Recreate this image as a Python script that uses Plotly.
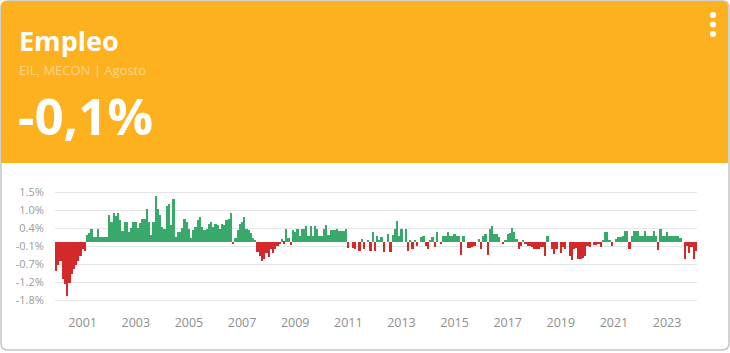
import plotly.graph_objects as go

# ---------------- data ----------------
start_year, start_month = 2000, 7          # first bar = July 2000 (monthly series)
values = [
    # Jul 2000 - Aug 2001
    -0.9, -0.72, -0.6, -1.15, -1.3, -1.68, -1.28, -1.0, -0.85, -0.72, -0.6, -0.43, -0.22, -0.3,
    # Sep 2001 - Jun 2007
    0.19, 0.25, 0.4, 0.15, 0.15, 0.4, 0.15, 0.15, 0.15, 0.15, 0.8, 0.6, 0.88, 0.77, 0.88, 0.65,
    0.33, 0.6, 0.6, 0.28, 0.43, 0.6, 0.6, 0.43, 0.58, 0.7, 0.7, 1.0, 0.6, 0.2, 0.6, 1.39,
    1.0, 0.8, 0.45, 0.4, 1.1, 1.15, 0.5, 1.3, 0.15, 0.3, 0.3, 0.43, 0.7, 0.6, 0.38, 0.1,
    0.35, 0.45, 0.65, 0.75, 0.45, 0.35, 0.4, 0.55, 0.6, 0.45, 0.55, 0.5, 0.4, 0.55, 0.5, 0.65,
    0.7, 0.88, -0.08, 0.1, 0.35, 0.55,
    # Jul 2007 - Jan 2011
    0.6, 0.75, 0.4, 0.35, 0.25, 0.1, 0.05, -0.32, -0.45, -0.6, -0.53, -0.34, -0.48, -0.22,
    -0.35, -0.22, -0.14, -0.07, 0.08, -0.06, 0.38, 0.1, -0.1, 0.36, 0.3, 0.4, 0.18, 0.4,
    0.38, 0.47, 0.18, 0.47, 0.18, 0.47, 0.4, 0.16, 0.16, 0.4, 0.52, 0.2, 0.35, 0.35, 0.35,
    # Feb 2011 - Aug 2014
    0.38, 0.33, 0.33, 0.33, 0.38, -0.2, 0.0, -0.2, -0.22, 0.0, -0.3, 0.08, -0.22, 0.0,
    0.06, -0.3, 0.28, -0.3, 0.18, 0.06, 0.13, -0.32, 0.0, 0.23, -0.32, 0.2, 0.38, 0.64,
    0.18, 0.38, 0.0, 0.38, -0.3, 0.03, -0.22, 0.06, -0.14, 0.0, 0.13, 0.18, -0.12, -0.22, 0.06,
    # Sep 2014 - Mar 2018
    0.13, -0.17, 0.28, 0.0, -0.07, 0.18, 0.18, 0.28, 0.16, 0.16, 0.23, 0.16, 0.16, -0.41,
    0.16, 0.0, -0.2, -0.2, -0.17, -0.14, 0.0, 0.08, -0.22, 0.16, 0.23, -0.41, 0.38, 0.48,
    0.23, 0.23, 0.13, 0.0, -0.07, 0.06, 0.23, 0.26, 0.43, 0.28, 0.08, -0.22, -0.12, 0.06, -0.07,
    # Apr 2018 - Oct 2021
    -0.12, -0.14, -0.17, -0.22, -0.22, -0.22, -0.17, -0.17, -0.43, 0.16, 0.0, -0.22, -0.37,
    -0.22, 0.0, -0.35, -0.17, -0.22, 0.0, -0.43, -0.55, -0.22, -0.2, -0.53, -0.53, -0.51,
    -0.43, -0.14, -0.17, 0.0, -0.1, -0.1, -0.07, -0.17, 0.06, 0.28, 0.28, 0.06, -0.12, 0.0,
    0.08, 0.13, 0.13,
    # Nov 2021 - Aug 2024
    0.16, 0.33, 0.33, -0.22, 0.16, 0.33, 0.33, 0.33, 0.16, 0.16, 0.33, 0.16, 0.16, 0.16,
    0.33, 0.16, -0.25, 0.38, 0.16, 0.16, 0.3, 0.16, 0.16, 0.16, 0.16, 0.16, 0.12,
    0.0, -0.53, -0.12, -0.35, -0.17, -0.53, -0.3,
]
y_tickvals = [-1.8, -1.25, -0.7, -0.15, 0.4, 0.95, 1.5]
y_ticktext = ["-1.8%", "-1.2%", "-0.7%", "-0.1%", "0.4%", "1.0%", "1.5%"]
x_tick_years = list(range(2001, 2024, 2))
title_text = "Empleo"
source_text = "EIL, MECON | Agosto"
headline_text = "-0,1%"

# ---------------- styling ----------------
W, H = 730, 353
L, R, T, B = 55, 33, 191, 51
PW, PH = W - L - R, H - T - B
GREEN, RED = "#39a96b", "#d3292b"
ORANGE = "#FDB11F"
FONT = "Open Sans"


def px(p):
    return (p - L) / PW


def py(p):
    return (H - B - p) / PH


def rounded_path(x0, y0, x1, y1, r, bottom_round=True):
    # pixel coordinates -> paper coordinates path
    pts = []
    pts.append(f"M {px(x0 + r)},{py(y0)}")
    pts.append(f"L {px(x1 - r)},{py(y0)}")
    pts.append(f"Q {px(x1)},{py(y0)} {px(x1)},{py(y0 + r)}")
    if bottom_round:
        pts.append(f"L {px(x1)},{py(y1 - r)}")
        pts.append(f"Q {px(x1)},{py(y1)} {px(x1 - r)},{py(y1)}")
        pts.append(f"L {px(x0 + r)},{py(y1)}")
        pts.append(f"Q {px(x0)},{py(y1)} {px(x0)},{py(y1 - r)}")
    else:
        pts.append(f"L {px(x1)},{py(y1)}")
        pts.append(f"L {px(x0)},{py(y1)}")
    pts.append(f"L {px(x0)},{py(y0 + r)}")
    pts.append(f"Q {px(x0)},{py(y0)} {px(x0 + r)},{py(y0)}")
    pts.append("Z")
    return " ".join(pts)


n = len(values)
xs = list(range(n))
colors = [GREEN if v >= 0 else RED for v in values]
x_tickvals = [(yr - start_year) * 12 + (7 - start_month) for yr in x_tick_years]

fig = go.Figure()
fig.add_trace(go.Bar(x=xs, y=values, marker=dict(color=colors, line=dict(width=0)),
                     width=1.0, hoverinfo="skip"))

shapes = [
    # card shadow / outline
    dict(type="path", xref="paper", yref="paper", path=rounded_path(1, 1, 729, 350, 7),
         fillcolor="rgba(0,0,0,0)", line=dict(color="#c4c4c4", width=1.5), layer="below"),
    # orange header
    dict(type="path", xref="paper", yref="paper", path=rounded_path(1, 1, 728, 163, 6, bottom_round=False),
         fillcolor=ORANGE, line=dict(width=0), layer="below"),
]
for cy in (15, 24.5, 34):
    shapes.append(dict(type="circle", xref="paper", yref="paper",
                       x0=px(710), x1=px(716), y0=py(cy + 3), y1=py(cy - 3),
                       fillcolor="white", line=dict(width=0)))

annotations = [
    dict(text=f"<b>{title_text}</b>", x=px(17), y=py(40), xref="paper", yref="paper",
         xanchor="left", yanchor="middle", showarrow=False,
         font=dict(family=FONT, size=27, color="white")),
    dict(text=source_text, x=px(17), y=py(70), xref="paper", yref="paper",
         xanchor="left", yanchor="middle", showarrow=False,
         font=dict(family=FONT, size=13, color="#FED484")),
    dict(text=f"<b>{headline_text}</b>", x=px(16), y=py(115), xref="paper", yref="paper",
         xanchor="left", yanchor="middle", showarrow=False,
         font=dict(family=FONT, size=51, color="white")),
]

fig.update_layout(
    width=W, height=H,
    margin=dict(l=L, r=R, t=T, b=B, pad=0),
    paper_bgcolor="white", plot_bgcolor="white",
    bargap=0, showlegend=False,
    shapes=shapes, annotations=annotations,
    xaxis=dict(range=[-0.5, n - 0.5], showgrid=False, zeroline=False, showline=False,
               tickmode="array", tickvals=x_tickvals, ticktext=[str(y) for y in x_tick_years],
               ticks="outside", ticklen=9, tickcolor="rgba(0,0,0,0)",
               tickfont=dict(family=FONT, size=12.5, color="#8e8e8e"), fixedrange=True),
    yaxis=dict(range=[-1.85, 1.55], showgrid=True, gridcolor="#e4e4e4", gridwidth=1,
               zeroline=False, showline=False,
               tickmode="array", tickvals=y_tickvals, ticktext=y_ticktext,
               ticks="outside", ticklen=8, tickcolor="rgba(0,0,0,0)",
               tickfont=dict(family=FONT, size=11, color="#9a9a9a"), fixedrange=True),
)

fig.write_html("out.html")
